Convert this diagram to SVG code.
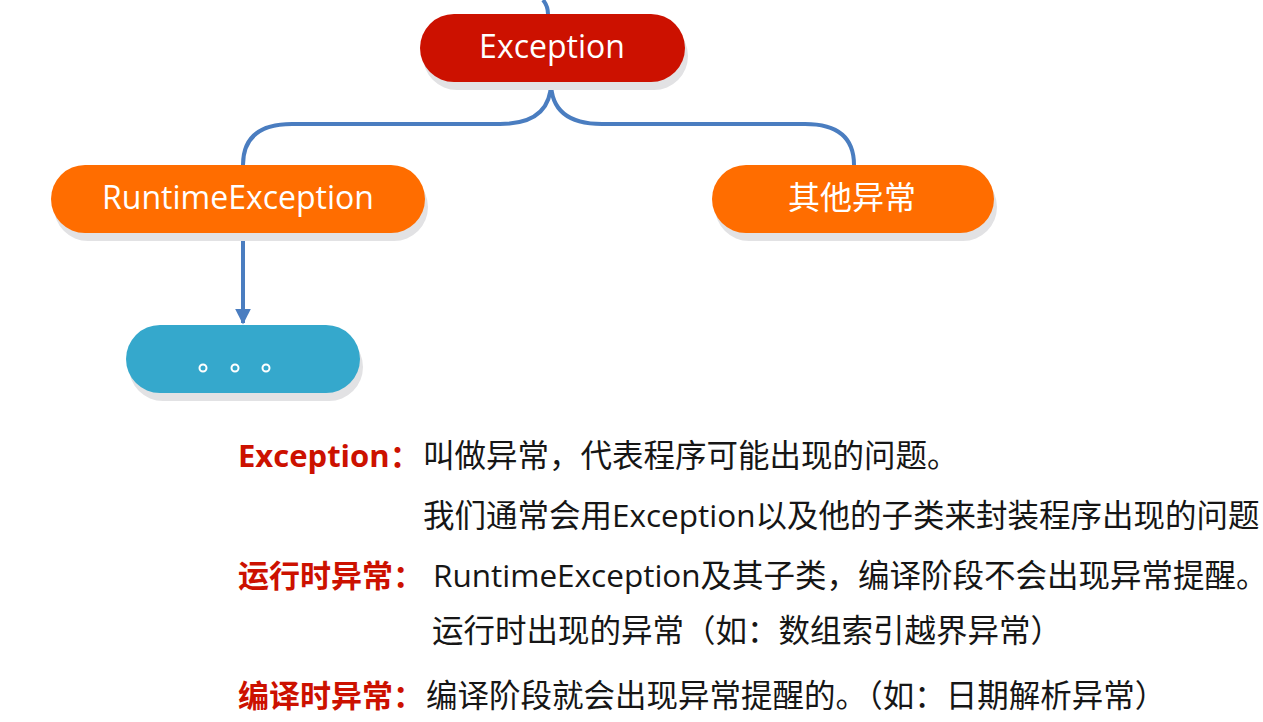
<svg xmlns="http://www.w3.org/2000/svg" width="1263" height="722" viewBox="0 0 1263 722">
<defs>
<style>
.shadow{fill:#e2e2e4}
.nt{font-family:"Open Sans","Noto Sans CJK SC",sans-serif;fill:#ffffff;text-anchor:middle}
.lbl{font-family:"Open Sans","Noto Sans CJK SC",sans-serif;font-weight:bold;fill:#cc1100;font-size:31px}
.body{font-family:"Open Sans","Noto Sans CJK SC",sans-serif;fill:#161616;font-size:31.5px}
.conn{fill:none;stroke:#4a7dc0;stroke-width:4}
</style>
<marker id="arr" viewBox="0 0 10 10" refX="9" refY="5" markerWidth="4" markerHeight="4" orient="auto" markerUnits="strokeWidth">
<path d="M0,0 L10,5 L0,10 z" fill="#4a7dc0"/>
</marker>
</defs>
<rect width="1263" height="722" fill="#ffffff"/>
<g id="connectors">
<path class="conn" d="M543,0 Q548,6 548,14"/>
<path class="conn" d="M551,82 Q551,124 500,124 L292,124 Q243,124 243,165"/>
<path class="conn" d="M551,82 Q551,124 602,124 L805,124 Q854,124 854,165"/>
<path class="conn" d="M243,233 L243,323" marker-end="url(#arr)"/>
</g>
<g id="node-exception">
<rect class="shadow" x="423" y="22" width="265" height="68" rx="34"/>
<rect x="420" y="14" width="265" height="68" rx="34" fill="#cc1100"/>
<text class="nt" x="552" y="58" font-size="32">Exception</text>
</g>
<g id="node-runtime">
<rect class="shadow" x="54" y="173" width="374" height="68" rx="34"/>
<rect x="51" y="165" width="374" height="68" rx="34" fill="#ff6d00"/>
<text class="nt" x="238" y="209" font-size="32">RuntimeException</text>
</g>
<g id="node-other">
<rect class="shadow" x="715" y="173" width="282" height="68" rx="34"/>
<rect x="712" y="165" width="282" height="68" rx="34" fill="#ff6d00"/>
<text class="nt" x="852" y="209" font-size="32">其他异常</text>
</g>
<g id="node-more">
<rect class="shadow" x="129" y="333" width="234" height="68" rx="34"/>
<rect x="126" y="325" width="234" height="68" rx="34" fill="#35a8cc"/>
<circle cx="203" cy="368" r="3.5" fill="none" stroke="#ffffff" stroke-width="2"/>
<circle cx="235" cy="368" r="3.5" fill="none" stroke="#ffffff" stroke-width="2"/>
<circle cx="266" cy="368" r="3.5" fill="none" stroke="#ffffff" stroke-width="2"/>
</g>
<g id="notes">
<text class="lbl" x="238" y="467">Exception：</text>
<text class="body" x="423" y="467">叫做异常，代表程序可能出现的问题。</text>
<text class="body" x="423" y="527">我们通常会用Exception以及他的子类来封装程序出现的问题</text>
<text class="lbl" x="238" y="587">运行时异常：</text>
<text class="body" x="433" y="587">RuntimeException及其子类，编译阶段不会出现异常提醒。</text>
<text class="body" x="432" y="642">运行时出现的异常（如：数组索引越界异常）</text>
<text class="lbl" x="238" y="707">编译时异常：</text>
<text class="body" x="426" y="707">编译阶段就会出现异常提醒的。（如：日期解析异常）</text>
</g>
</svg>
